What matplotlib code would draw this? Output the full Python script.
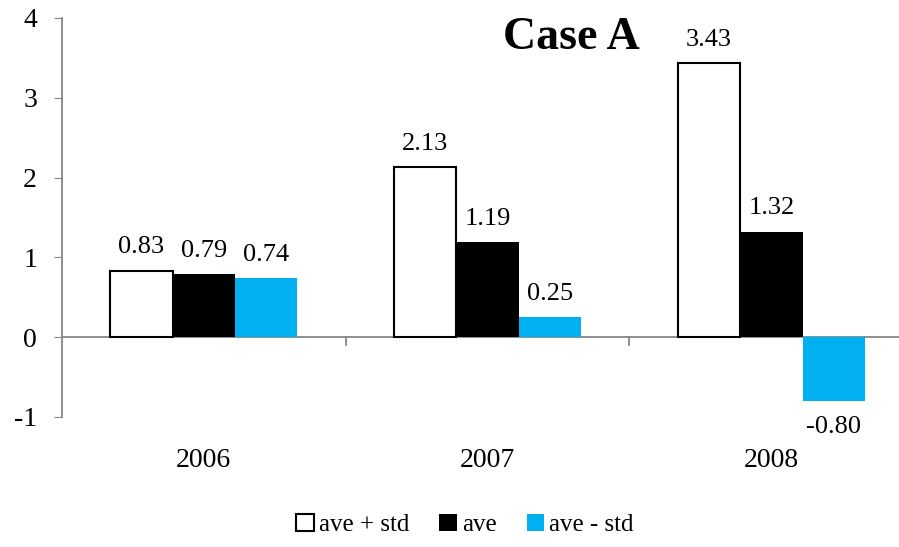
import numpy as np
import matplotlib.pyplot as plt

years = ["2006", "2007", "2008"]
series_names = ["ave + std", "ave", "ave - std"]
ave_plus_std = [0.83, 2.13, 3.43]
ave = [0.79, 1.19, 1.32]
ave_minus_std = [0.74, 0.25, -0.80]

plt.rcParams["font.family"] = ["Liberation Serif", "DejaVu Serif"]
plt.rcParams["axes.unicode_minus"] = False

fig = plt.figure(figsize=(8.99, 5.47), dpi=100)
ax = fig.add_axes([62 / 899, 1 - 417 / 547, 1 - 62 / 899, (417 - 18) / 547])

x = np.arange(len(years))
width = 0.22
series = [ave_plus_std, ave, ave_minus_std]
faces = ["white", "black", "#00B0F0"]
edges = ["black", "black", "#00B0F0"]

for i, (vals, fc, ec, name) in enumerate(zip(series, faces, edges, series_names)):
    pos = x + (i - 1) * width
    ax.bar(pos, vals, width, color=fc, edgecolor=ec,
           linewidth=1.5 if i == 0 else 0, label=name, zorder=3)
    for p, v in zip(pos, vals):
        if v >= 0:
            ax.annotate(f"{v:.2f}", (p, v), xytext=(0, 9), textcoords="offset points",
                        ha="center", va="bottom", fontsize=19)
        else:
            ax.annotate(f"{v:.2f}", (p, v), xytext=(0, -11), textcoords="offset points",
                        ha="center", va="top", fontsize=19)

ax.set_xlim(-0.5, 2.45)
ax.set_ylim(-1, 4)
ax.set_yticks([-1, 0, 1, 2, 3, 4])
ax.set_xticks(x)
ax.set_xticklabels(years)

for side in ["top", "right", "bottom"]:
    ax.spines[side].set_visible(False)
ax.spines["left"].set_color("#868686")
ax.spines["left"].set_linewidth(1.3)

ax.axhline(0, color="#868686", linewidth=1.3, zorder=2)
for b in [0.5, 1.5]:
    ax.plot([b, b], [0, -0.1], color="#868686", linewidth=1.3, zorder=2)

ax.tick_params(axis="y", direction="out", length=6, color="#868686", labelsize=20, pad=12)
ax.tick_params(axis="x", length=0, labelsize=20, pad=22)

fig.text(571 / 899, 1 - 38 / 547, "Case A", fontsize=33, fontweight="bold",
         ha="center", va="center")

fig.legend(loc="center", bbox_to_anchor=(465 / 899, 1 - 525 / 547), ncol=3,
           frameon=False, fontsize=18, handlelength=0.7, handleheight=0.7,
           handletextpad=0.2, columnspacing=1.2)

fig.savefig("out.png", dpi=100)
